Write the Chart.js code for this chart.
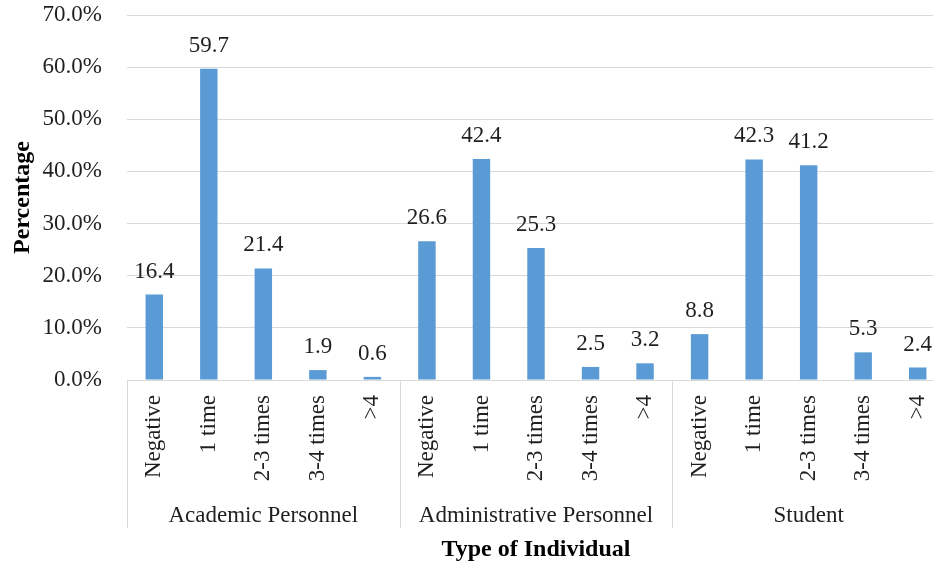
<!DOCTYPE html>
<html>
<head>
<meta charset="utf-8">
<script src="https://cdn.jsdelivr.net/npm/chart.js@4/dist/chart.umd.min.js"></script>
<style>
  html, body { margin: 0; padding: 0; background: #fff; overflow: hidden; }
  #wrap { width: 945px; height: 567px; }
</style>
</head>
<body>
<div id="wrap"><canvas id="c" width="945" height="567"></canvas></div>
<script>
// Infection frequency by type of individual (percent)
const groups = ['Academic Personnel', 'Administrative Personnel', 'Student'];
const levels = ['Negative', '1 time', '2-3 times', '3-4 times', '>4'];
const academic = [16.4, 59.7, 21.4, 1.9, 0.6];
const administrative = [26.6, 42.4, 25.3, 2.5, 3.2];
const student = [8.8, 42.3, 41.2, 5.3, 2.4];
const yTicks = [0, 10, 20, 30, 40, 50, 60, 70];

const labels = [];
groups.forEach(g => levels.forEach(l => labels.push(l)));
const values = [].concat(academic, administrative, student);

const FONT = "'Liberation Serif', 'Times New Roman', serif";
const TEXT = '#1f1f1f';
const GRID = '#d9d9d9';

const multiLevelAxis = {
  id: 'multiLevelAxis',
  afterDraw(chart) {
    const ctx = chart.ctx;
    const xs = chart.scales.x;
    const area = chart.chartArea;
    const step = (xs.right - xs.left) / labels.length;
    const base = area.bottom;
    ctx.save();

    // rotated category labels
    ctx.fillStyle = TEXT;
    ctx.font = '23px ' + FONT;
    ctx.textAlign = 'right';
    ctx.textBaseline = 'middle';
    labels.forEach((lab, i) => {
      const x = xs.getPixelForValue(i);
      ctx.save();
      ctx.translate(x, base + 15);
      ctx.rotate(-Math.PI / 2);
      ctx.fillText(lab, 0, 0);
      ctx.restore();
    });

    // group separators and group names
    ctx.strokeStyle = GRID;
    ctx.lineWidth = 1;
    for (let g = 0; g <= groups.length; g++) {
      const x = Math.round(xs.left + g * levels.length * step) + 0.5;
      ctx.beginPath();
      ctx.moveTo(x, base);
      ctx.lineTo(x, base + 148);
      ctx.stroke();
    }
    ctx.font = '23px ' + FONT;
    ctx.textAlign = 'center';
    groups.forEach((g, gi) => {
      const x = xs.left + (gi + 0.5) * levels.length * step;
      ctx.fillText(g, x, base + 136);
    });

    // axis titles
    ctx.font = 'bold 24px ' + FONT;
    ctx.fillStyle = '#000';
    ctx.fillText('Type of Individual', (area.left + area.right) / 2, 550);
    ctx.save();
    ctx.translate(23, (area.top + area.bottom) / 2);
    ctx.rotate(-Math.PI / 2);
    ctx.fillText('Percentage', 0, 0);
    ctx.restore();

    ctx.restore();
  }
};

const valueLabels = {
  id: 'valueLabels',
  afterDatasetsDraw(chart) {
    const ctx = chart.ctx;
    const meta = chart.getDatasetMeta(0);
    ctx.save();
    ctx.fillStyle = TEXT;
    ctx.font = '23px ' + FONT;
    ctx.textAlign = 'center';
    ctx.textBaseline = 'middle';
    meta.data.forEach((bar, i) => {
      ctx.fillText(values[i].toFixed(1), bar.x, bar.y - 23);
    });
    ctx.restore();
  }
};

new Chart(document.getElementById('c'), {
  type: 'bar',
  data: {
    labels: labels,
    datasets: [{
      data: values,
      backgroundColor: '#5b9bd5',
      borderWidth: 0,
      categoryPercentage: 1,
      barPercentage: 0.32
    }]
  },
  options: {
    responsive: false,
    animation: false,
    devicePixelRatio: 1,
    layout: { padding: { top: 15, right: 0, left: 0, bottom: 0 } },
    plugins: { legend: { display: false }, tooltip: { enabled: false } },
    scales: {
      x: {
        ticks: { display: false },
        grid: { display: false },
        border: { display: true, color: GRID, width: 1 },
        afterFit(scale) {
          scale.height = 187;
          scale.paddingLeft = 0;
          scale.paddingRight = 0;
        }
      },
      y: {
        min: 0,
        max: 70,
        afterBuildTicks(scale) { scale.ticks = yTicks.map(v => ({ value: v })); },
        ticks: {
          padding: 25,
          color: TEXT,
          font: { family: FONT, size: 23 },
          callback: v => v.toFixed(1) + '%'
        },
        grid: { color: GRID, lineWidth: 1, drawTicks: false, tickLength: 0 },
        border: { display: false },
        afterFit(scale) {
          scale.width = 127;
          scale.paddingTop = 0;
          scale.paddingBottom = 0;
        }
      }
    }
  },
  plugins: [multiLevelAxis, valueLabels]
});
</script>
</body>
</html>
